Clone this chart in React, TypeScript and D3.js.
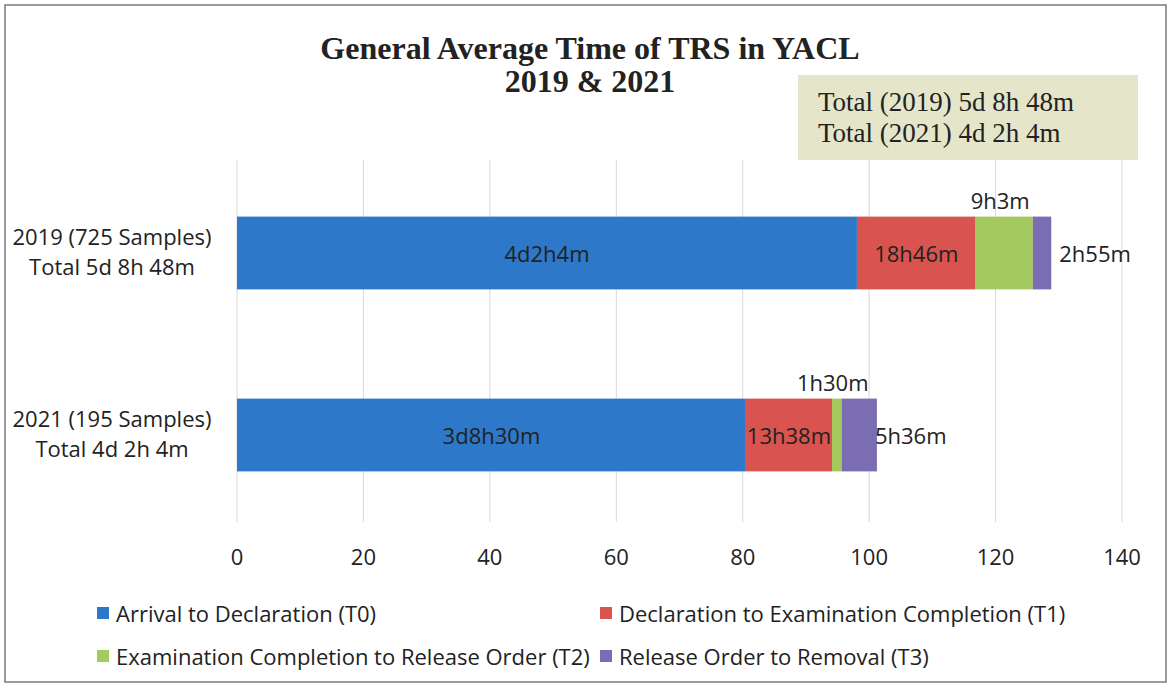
import * as d3 from "d3";

// category labels (two lines each)
const categories = ["2019", "2021"];
const categoryLine1 = ["2019 (725 Samples)", "2021 (195 Samples)"];
const categoryLine2 = ["Total 5d 8h 48m", "Total 4d 2h 4m"];

// stage series, values in hours
const seriesNames = [
  "Arrival to Declaration (T0)",
  "Declaration to Examination Completion (T1)",
  "Examination Completion to Release Order (T2)",
  "Release Order to Removal (T3)",
];
const values2019 = [98.07, 18.77, 9.05, 2.92];
const values2021 = [80.5, 13.63, 1.5, 5.6];
const labels2019 = ["4d2h4m", "18h46m", "9h3m", "2h55m"];
const labels2021 = ["3d8h30m", "13h38m", "1h30m", "5h36m"];

const xTicks = [0, 20, 40, 60, 80, 100, 120, 140];
const titleLines = ["General Average Time of TRS in YACL", "2019 & 2021"];
const noteLines = ["Total (2019) 5d 8h 48m", "Total (2021) 4d 2h 4m"];

const colors = ["#2d78c8", "#d9544f", "#a4c95e", "#7b6db3"];
const sans = "'Open Sans', sans-serif";
const serif = "'Liberation Serif', 'Times New Roman', serif";

export default function App() {
  const width = 1170;
  const height = 691;
  const plotTop = 160;
  const plotBottom = 522;

  const x = d3.scaleLinear().domain([0, 140]).range([237, 1122]);
  const y = d3
    .scaleBand()
    .domain(categories)
    .range([162, 526])
    .paddingInner(0.6)
    .paddingOuter(0.3);

  const rows = [
    { cat: "2019", vals: values2019, labels: labels2019 },
    { cat: "2021", vals: values2021, labels: labels2021 },
  ];

  const stack = rows.map((r) => {
    let acc = 0;
    return r.vals.map((v, i) => {
      const s = { x0: acc, x1: acc + v, label: r.labels[i], i };
      acc += v;
      return s;
    });
  });

  // label placement per stage: inside, inside, above, right
  const t3Offset = [8, -2];

  return (
    <svg
      width={width}
      height={height}
      style={{ position: "absolute", left: 0, top: 0, background: "#fff" }}
    >
      <rect x={5} y={5} width={1161} height={677} fill="#fff" stroke="#7a7a7a" strokeWidth={1.5} />

      {/* title */}
      {titleLines.map((t, i) => (
        <text
          key={t}
          x={590}
          y={59 + i * 33}
          textAnchor="middle"
          fontFamily={serif}
          fontWeight="bold"
          fontSize={32}
          fill="#222"
        >
          {t}
        </text>
      ))}

      {/* gridlines */}
      {xTicks.map((t) => (
        <line key={t} x1={x(t)} x2={x(t)} y1={plotTop} y2={plotBottom} stroke="#d9d9d9" strokeWidth={1} />
      ))}

      {/* note box */}
      <rect x={798} y={75} width={340} height={85} fill="#e5e5ca" />
      {noteLines.map((t, i) => (
        <text key={t} x={818} y={111 + i * 31} fontFamily={serif} fontSize={27} fill="#222">
          {t}
        </text>
      ))}

      {/* bars */}
      {stack.map((segs, r) => {
        const cat = categories[r];
        const y0 = y(cat)!;
        const bw = y.bandwidth();
        const cy = y0 + bw / 2;
        return (
          <g key={cat}>
            {segs.map((s) => (
              <rect
                key={s.i}
                x={x(s.x0)}
                y={y0}
                width={x(s.x1) - x(s.x0)}
                height={bw}
                fill={colors[s.i]}
              />
            ))}
            {segs.map((s) => {
              let lx = (x(s.x0) + x(s.x1)) / 2;
              let ly = cy;
              let anchor = "middle";
              if (s.i === 2) {
                lx -= 4;
                ly = y0 - 17;
              } else if (s.i === 3) {
                lx = x(s.x1) + t3Offset[r];
                anchor = "start";
              }
              return (
                <text
                  key={"l" + s.i}
                  x={lx}
                  y={ly}
                  textAnchor={anchor}
                  dominantBaseline="central"
                  fontFamily={sans}
                  fontSize={22}
                  fill="#222"
                >
                  {s.label}
                </text>
              );
            })}
            <text x={112} y={cy - 8} textAnchor="middle" fontFamily={sans} fontSize={22} fill="#222">
              {categoryLine1[r]}
            </text>
            <text x={112} y={cy + 22} textAnchor="middle" fontFamily={sans} fontSize={22} fill="#222">
              {categoryLine2[r]}
            </text>
          </g>
        );
      })}

      {/* x axis tick labels */}
      {xTicks.map((t) => (
        <text key={"t" + t} x={x(t)} y={565} textAnchor="middle" fontFamily={sans} fontSize={22} fill="#222">
          {t}
        </text>
      ))}

      {/* legend */}
      {seriesNames.map((n, i) => {
        const lx = i % 2 === 0 ? 97 : 600;
        const ly = i < 2 ? 613 : 656;
        return (
          <g key={n}>
            <rect x={lx} y={ly - 6} width={12} height={12} fill={colors[i]} />
            <text x={lx + 19} y={ly} dominantBaseline="central" fontFamily={sans} fontSize={22} fill="#222">
              {n}
            </text>
          </g>
        );
      })}
    </svg>
  );
}
